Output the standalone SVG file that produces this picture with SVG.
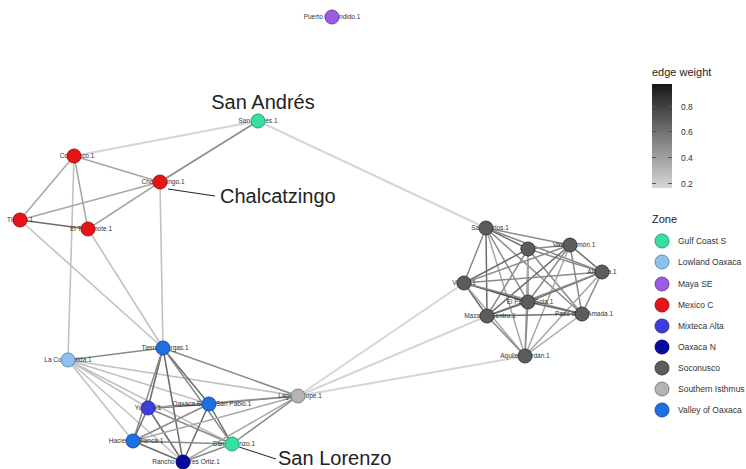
<svg xmlns="http://www.w3.org/2000/svg" width="746" height="469" viewBox="0 0 746 469">
  <defs>
    <linearGradient id="wgrad" x1="0" y1="0" x2="0" y2="1">
      <stop offset="0" stop-color="#161616"/>
      <stop offset="0.5" stop-color="#7a7a7a"/>
      <stop offset="1" stop-color="#d6d6d6"/>
    </linearGradient>
  </defs>
  <style>
    text { font-family: "Liberation Sans", Arial, sans-serif; }
    .e { fill: none; stroke-linecap: round; stroke-width: 1.5; }
    .w1 { stroke: #d6d6d6; stroke-width: 2; }
    .w2 { stroke: #c2c2c2; stroke-width: 1.6; }
    .w3 { stroke: #a6a6a6; }
    .w4 { stroke: #8a8a8a; }
    .w5 { stroke: #6c6c6c; }
    .w6 { stroke: #4a4a4a; stroke-width: 1.8; }
    .lbl { font-size: 6.5px; fill: #333; text-anchor: middle; }
    .big { font-size: 20px; fill: #222; }
    .lead { stroke: #222; stroke-width: 1; fill: none; }
    .node { stroke-width: 0.9; }
    .gcs { fill: #35e0a0; stroke: #1d9a6a; }
    .lox { fill: #8fc0ee; stroke: #4f86b8; }
    .mse { fill: #9a5ce0; stroke: #6a34a8; }
    .mxc { fill: #e61414; stroke: #9a0a0a; }
    .mxa { fill: #3d3ddc; stroke: #26269a; }
    .oxn { fill: #0a0aa0; stroke: #050560; }
    .soc { fill: #5c5c5c; stroke: #333; }
    .sis { fill: #b4b4b4; stroke: #777; }
    .vox { fill: #1f6fe0; stroke: #1048a0; }
    .legt { font-size: 11px; fill: #222; }
    .legl { font-size: 8.5px; fill: #333; }
  </style>
  <rect width="746" height="469" fill="#fff"/>

  <!-- connectors -->
  <g id="edges">
    <!-- long-distance links -->
    <line class="e w1" x1="258" y1="121" x2="486" y2="228"/>
    <line class="e w1" x1="74" y1="156" x2="258" y2="121"/>
    <line class="e w1" x1="298" y1="396" x2="464" y2="283"/>
    <line class="e w1" x1="298" y1="396" x2="487" y2="316"/>
    <line class="e w1" x1="298" y1="396" x2="525" y2="356"/>
    <!-- Mexico C -->
    <line class="e w3" x1="74" y1="156" x2="160" y2="182"/>
    <line class="e w3" x1="74" y1="156" x2="20" y2="220"/>
    <line class="e w3" x1="74" y1="156" x2="88" y2="229"/>
    <line class="e w2" x1="74" y1="156" x2="68" y2="360"/>
    <line class="e w4" x1="160" y1="182" x2="258" y2="121"/>
    <line class="e w3" x1="160" y1="182" x2="20" y2="220"/>
    <line class="e w3" x1="160" y1="182" x2="88" y2="229"/>
    <line class="e w2" x1="160" y1="182" x2="163" y2="348"/>
    <line class="e w5" x1="20" y1="220" x2="88" y2="229"/>
    <line class="e w2" x1="20" y1="220" x2="163" y2="348"/>
    <line class="e w2" x1="88" y1="229" x2="163" y2="348"/>
    <!-- Oaxaca / Isthmus -->
    <line class="e w4" x1="68" y1="360" x2="163" y2="348"/>
    <line class="e w2" x1="68" y1="360" x2="148" y2="408"/>
    <line class="e w2" x1="68" y1="360" x2="209" y2="404"/>
    <line class="e w2" x1="68" y1="360" x2="133" y2="441"/>
    <line class="e w2" x1="68" y1="360" x2="183" y2="462"/>
    <line class="e w2" x1="68" y1="360" x2="232" y2="444"/>
    <line class="e w2" x1="68" y1="360" x2="298" y2="396"/>
    <line class="e w5" x1="163" y1="348" x2="148" y2="408"/>
    <line class="e w5" x1="163" y1="348" x2="209" y2="404"/>
    <line class="e w4" x1="163" y1="348" x2="133" y2="441"/>
    <line class="e w5" x1="163" y1="348" x2="183" y2="462"/>
    <line class="e w4" x1="163" y1="348" x2="232" y2="444"/>
    <line class="e w4" x1="163" y1="348" x2="298" y2="396"/>
    <line class="e w6" x1="148" y1="408" x2="209" y2="404"/>
    <line class="e w5" x1="148" y1="408" x2="133" y2="441"/>
    <line class="e w5" x1="148" y1="408" x2="183" y2="462"/>
    <line class="e w4" x1="148" y1="408" x2="232" y2="444"/>
    <line class="e w3" x1="148" y1="408" x2="298" y2="396"/>
    <line class="e w4" x1="209" y1="404" x2="133" y2="441"/>
    <line class="e w5" x1="209" y1="404" x2="183" y2="462"/>
    <line class="e w5" x1="209" y1="404" x2="232" y2="444"/>
    <line class="e w4" x1="209" y1="404" x2="298" y2="396"/>
    <line class="e w5" x1="133" y1="441" x2="183" y2="462"/>
    <line class="e w4" x1="133" y1="441" x2="232" y2="444"/>
    <line class="e w3" x1="133" y1="441" x2="298" y2="396"/>
    <line class="e w4" x1="183" y1="462" x2="232" y2="444"/>
    <line class="e w3" x1="183" y1="462" x2="298" y2="396"/>
    <line class="e w4" x1="232" y1="444" x2="298" y2="396"/>
    <!-- Soconusco -->
    <line class="e w5" x1="486" y1="228" x2="528" y2="249"/>
    <line class="e w4" x1="486" y1="228" x2="570" y2="245"/>
    <line class="e w4" x1="486" y1="228" x2="602" y2="272"/>
    <line class="e w4" x1="486" y1="228" x2="464" y2="283"/>
    <line class="e w4" x1="486" y1="228" x2="528" y2="302"/>
    <line class="e w4" x1="486" y1="228" x2="582" y2="314"/>
    <line class="e w5" x1="486" y1="228" x2="487" y2="316"/>
    <line class="e w3" x1="486" y1="228" x2="525" y2="356"/>
    <line class="e w4" x1="528" y1="249" x2="570" y2="245"/>
    <line class="e w4" x1="528" y1="249" x2="602" y2="272"/>
    <line class="e w5" x1="528" y1="249" x2="464" y2="283"/>
    <line class="e w4" x1="528" y1="249" x2="528" y2="302"/>
    <line class="e w4" x1="528" y1="249" x2="582" y2="314"/>
    <line class="e w4" x1="528" y1="249" x2="487" y2="316"/>
    <line class="e w3" x1="528" y1="249" x2="525" y2="356"/>
    <line class="e w5" x1="570" y1="245" x2="602" y2="272"/>
    <line class="e w4" x1="570" y1="245" x2="464" y2="283"/>
    <line class="e w4" x1="570" y1="245" x2="528" y2="302"/>
    <line class="e w4" x1="570" y1="245" x2="582" y2="314"/>
    <line class="e w5" x1="570" y1="245" x2="487" y2="316"/>
    <line class="e w3" x1="570" y1="245" x2="525" y2="356"/>
    <line class="e w4" x1="602" y1="272" x2="464" y2="283"/>
    <line class="e w5" x1="602" y1="272" x2="528" y2="302"/>
    <line class="e w4" x1="602" y1="272" x2="582" y2="314"/>
    <line class="e w4" x1="602" y1="272" x2="487" y2="316"/>
    <line class="e w3" x1="602" y1="272" x2="525" y2="356"/>
    <line class="e w6" x1="464" y1="283" x2="528" y2="302"/>
    <line class="e w4" x1="464" y1="283" x2="582" y2="314"/>
    <line class="e w5" x1="464" y1="283" x2="487" y2="316"/>
    <line class="e w3" x1="464" y1="283" x2="525" y2="356"/>
    <line class="e w5" x1="528" y1="302" x2="582" y2="314"/>
    <line class="e w5" x1="528" y1="302" x2="487" y2="316"/>
    <line class="e w4" x1="528" y1="302" x2="525" y2="356"/>
    <line class="e w5" x1="582" y1="314" x2="487" y2="316"/>
    <line class="e w3" x1="582" y1="314" x2="525" y2="356"/>
    <line class="e w4" x1="487" y1="316" x2="525" y2="356"/>
  </g>

  <!-- site labels sit beneath the node discs -->
  <g id="labels">
    <text class="lbl" x="332" y="19">Puerto Escondido.1</text>
    <text class="lbl" x="258" y="123">San Andrés.1</text>
    <text class="lbl" x="77" y="158">Coapexco.1</text>
    <text class="lbl" x="163" y="184">Chalcatzingo.1</text>
    <text class="lbl" x="20" y="222">Tlatilco.1</text>
    <text class="lbl" x="91" y="231">El Terremote.1</text>
    <text class="lbl" x="165" y="350">Tierras Largas.1</text>
    <text class="lbl" x="68" y="362">La Consentida.1</text>
    <text class="lbl" x="148" y="410">Yucuita.1</text>
    <text class="lbl" x="212" y="406">Oaxaca Barrio San Pablo.1</text>
    <text class="lbl" x="136" y="443">Hacienda Blanca.1</text>
    <text class="lbl" x="186" y="464">Rancho Dolores Ortiz.1</text>
    <text class="lbl" x="234" y="446">San Lorenzo.1</text>
    <text class="lbl" x="300" y="398">Laguna Zope.1</text>
    <text class="lbl" x="490" y="230">San Carlos.1</text>
    <text class="lbl" x="528" y="251">Ojo.1</text>
    <text class="lbl" x="574" y="247">Vasco Limón.1</text>
    <text class="lbl" x="602" y="274">Altamira.1</text>
    <text class="lbl" x="464" y="285">Vivero.1</text>
    <text class="lbl" x="530" y="304">El Pernal Sola.1</text>
    <text class="lbl" x="584" y="316">Paso de la Amada.1</text>
    <text class="lbl" x="490" y="318">Mazatán Centro.1</text>
    <text class="lbl" x="525" y="358">Aquiles Serdán.1</text>
  </g>

  <!-- nodes -->
  <g id="n-puerto-escondido"><circle class="node mse" cx="332" cy="17" r="7"/></g>
  <g id="n-san-andres"><circle class="node gcs" cx="258" cy="121" r="7"/></g>
  <g id="n-coapexco"><circle class="node mxc" cx="74" cy="156" r="7"/></g>
  <g id="n-chalcatzingo"><circle class="node mxc" cx="160" cy="182" r="7"/></g>
  <g id="n-tlatilco"><circle class="node mxc" cx="20" cy="220" r="7"/></g>
  <g id="n-el-terremote"><circle class="node mxc" cx="88" cy="229" r="7"/></g>
  <g id="n-tierras-largas"><circle class="node vox" cx="163" cy="348" r="7"/></g>
  <g id="n-la-consentida"><circle class="node lox" cx="68" cy="360" r="7"/></g>
  <g id="n-yucuita"><circle class="node mxa" cx="148" cy="408" r="7"/></g>
  <g id="n-oaxaca-san-pablo"><circle class="node vox" cx="209" cy="404" r="7"/></g>
  <g id="n-hacienda-blanca"><circle class="node vox" cx="133" cy="441" r="7"/></g>
  <g id="n-rancho-dolores-ortiz"><circle class="node oxn" cx="183" cy="462" r="7"/></g>
  <g id="n-san-lorenzo"><circle class="node gcs" cx="232" cy="444" r="7"/></g>
  <g id="n-laguna-zope"><circle class="node sis" cx="298" cy="396" r="7"/></g>
  <g id="n-san-carlos"><circle class="node soc" cx="486" cy="228" r="7"/></g>
  <g id="n-ojo"><circle class="node soc" cx="528" cy="249" r="7"/></g>
  <g id="n-vasco-limon"><circle class="node soc" cx="570" cy="245" r="7"/></g>
  <g id="n-altamira"><circle class="node soc" cx="602" cy="272" r="7"/></g>
  <g id="n-vivero"><circle class="node soc" cx="464" cy="283" r="7"/></g>
  <g id="n-el-pernal"><circle class="node soc" cx="528" cy="302" r="7"/></g>
  <g id="n-paso-de-la-amada"><circle class="node soc" cx="582" cy="314" r="7"/></g>
  <g id="n-mazatan"><circle class="node soc" cx="487" cy="316" r="7"/></g>
  <g id="n-aquiles-serdan"><circle class="node soc" cx="525" cy="356" r="7"/></g>

  <!-- highlighted site callouts -->
  <g id="callouts">
    <text class="big" x="263" y="109" text-anchor="middle">San Andrés</text>
    <line class="lead" x1="168" y1="189" x2="215" y2="196"/>
    <text class="big" x="220" y="203">Chalcatzingo</text>
    <line class="lead" x1="239" y1="447" x2="276" y2="459"/>
    <text class="big" x="278" y="465">San Lorenzo</text>
  </g>

  <!-- edge weight colour bar -->
  <g id="legend-weight">
    <text class="legt" x="652" y="76">edge weight</text>
    <rect x="652" y="84" width="20" height="104" fill="url(#wgrad)"/>
    <g stroke="#555" stroke-width="1">
      <line x1="652" y1="106.5" x2="656" y2="106.5"/><line x1="668" y1="106.5" x2="672" y2="106.5"/>
      <line x1="652" y1="131.5" x2="656" y2="131.5"/><line x1="668" y1="131.5" x2="672" y2="131.5"/>
      <line x1="652" y1="157.5" x2="656" y2="157.5"/><line x1="668" y1="157.5" x2="672" y2="157.5"/>
      <line x1="652" y1="183.5" x2="656" y2="183.5"/><line x1="668" y1="183.5" x2="672" y2="183.5"/>
    </g>
    <text class="legl" x="681" y="109.5">0.8</text>
    <text class="legl" x="681" y="134.5">0.6</text>
    <text class="legl" x="681" y="160.5">0.4</text>
    <text class="legl" x="681" y="186.5">0.2</text>
  </g>

  <!-- zone legend -->
  <g id="legend-zone">
    <text class="legt" x="652" y="223">Zone</text>
    <circle class="node gcs" cx="662" cy="241" r="7"/><text class="legl" x="678" y="244">Gulf Coast S</text>
    <circle class="node lox" cx="662" cy="262" r="7"/><text class="legl" x="678" y="265">Lowland Oaxaca</text>
    <circle class="node mse" cx="662" cy="284" r="7"/><text class="legl" x="678" y="287">Maya SE</text>
    <circle class="node mxc" cx="662" cy="305" r="7"/><text class="legl" x="678" y="308">Mexico C</text>
    <circle class="node mxa" cx="662" cy="326" r="7"/><text class="legl" x="678" y="329">Mixteca Alta</text>
    <circle class="node oxn" cx="662" cy="347" r="7"/><text class="legl" x="678" y="350">Oaxaca N</text>
    <circle class="node soc" cx="662" cy="368" r="7"/><text class="legl" x="678" y="371">Soconusco</text>
    <circle class="node sis" cx="662" cy="389" r="7"/><text class="legl" x="678" y="392">Southern Isthmus</text>
    <circle class="node vox" cx="662" cy="410" r="7"/><text class="legl" x="678" y="413">Valley of Oaxaca</text>
  </g>
</svg>
